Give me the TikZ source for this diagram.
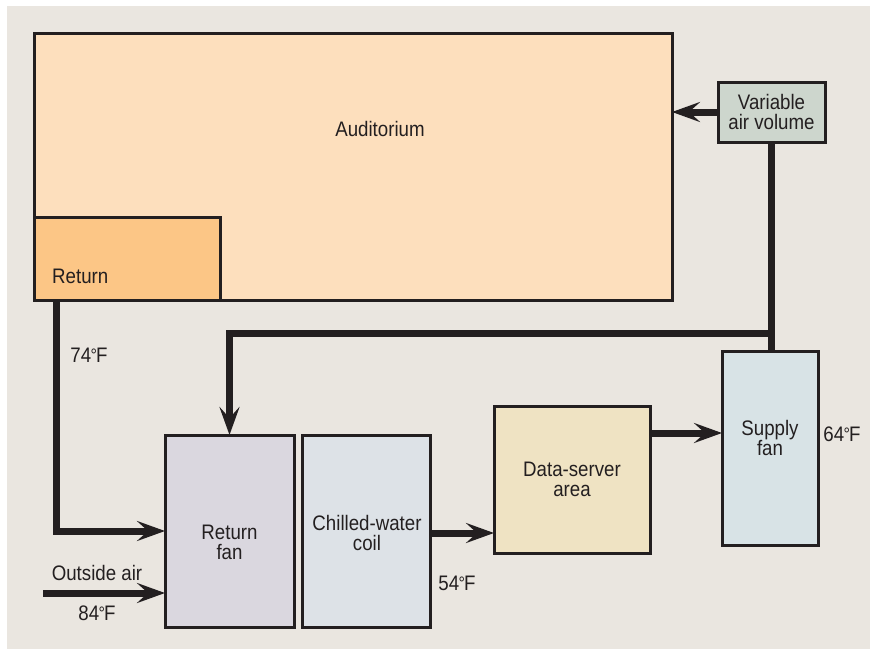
\documentclass[tikz,border=0pt]{standalone}
\usepackage{fontspec}
\setmainfont{Liberation Sans}[FakeStretch=0.89]
\usetikzlibrary{arrows.meta,calc}
\definecolor{ink}{HTML}{231F20}
\definecolor{panel}{HTML}{EAE6E0}
\definecolor{audfill}{HTML}{FDDFBD}
\definecolor{retfill}{HTML}{FCC686}
\definecolor{vavfill}{HTML}{CDD6CD}
\definecolor{rffill}{HTML}{DAD7DF}
\definecolor{coilfill}{HTML}{DDE2E7}
\definecolor{dsfill}{HTML}{EFE3C3}
\definecolor{supfill}{HTML}{D8E3E6}
\newcommand{\degF}{\kern-0.5pt{\fontsize{18}{18}\selectfont\raisebox{1pt}{°}}\kern-1pt F}
\tikzset{
  box/.style={draw=ink, line width=3pt, rectangle, inner sep=0pt, outer sep=0pt, text=ink, align=center, font=\fontsize{21}{20}\selectfont},
  lbl/.style={text=ink, inner sep=0pt, font=\fontsize{21}{20}\selectfont, align=center},
  duct/.style={draw=ink, line width=7pt, line join=miter},
  arr/.style={duct, -{Stealth[length=28pt, width=20pt, inset=11pt]}},
}
\begin{document}
\begin{tikzpicture}[x=1pt,y=-1pt]
\useasboundingbox (0,0) rectangle (877,651);
\fill[white] (0,0) rectangle (877,651);
\fill[panel] (7,6) rectangle (870,649);
% boxes
\node[box, fill=audfill, minimum width=638pt, minimum height=267pt] (aud) at (353,166.5) {};
\node[lbl] (audt) at (380,129) {Auditorium};
\node[box, fill=retfill, minimum width=186pt, minimum height=83pt] (ret) at (127,258.5) {};
\node[lbl, anchor=west] (rett) at (52,276) {Return};
\node[box, fill=vavfill, minimum width=107pt, minimum height=60pt] (vav) at (771.5,112) {Variable\\air volume};
\node[box, fill=rffill, minimum width=129pt, minimum height=192pt] (rf) at (229.5,531) {};
\node[lbl] (rft) at (229.5,542) {Return\\fan};
\node[box, fill=coilfill, minimum width=128pt, minimum height=192pt] (coil) at (366,531) {};
\node[lbl] (coilt) at (367,533) {Chilled-water\\coil};
\node[box, fill=dsfill, minimum width=156pt, minimum height=147pt] (ds) at (572,479.5) {Data-server\\area};
\node[box, fill=supfill, minimum width=96pt, minimum height=194pt] (sup) at (770,448) {};
\node[lbl] (supt) at (770,438) {Supply\\fan};
% labels
\node[lbl] (t74) at (89,355) {74\degF};
\node[lbl] (toa) at (97,573) {Outside air};
\node[lbl] (t84) at (97,613) {84\degF};
\node[lbl] (t54) at (457,583) {54\degF};
\node[lbl] (t64) at (842,434) {64\degF};
% connectors
\coordinate (j) at (771,333);
\coordinate (r0) at (56,300);
\coordinate (oa) at (43,593);
\coordinate (dsout) at (650,433);
\draw[arr] (vav.west) -- (vav.west -| aud.east);
\draw[duct] (vav.south) -- (vav.south |- sup.north);
\draw[arr] (j) -| (rf.north);
\draw[arr] (r0) |- (rf.west);
\draw[arr] (oa) -- (oa -| rf.west);
\draw[arr] ($(coil.east)+(0,2)$) -- ($(coil.east -| ds.west)+(0,2)$);
\draw[arr] (dsout) -- (dsout -| sup.west);
\end{tikzpicture}
\end{document}
